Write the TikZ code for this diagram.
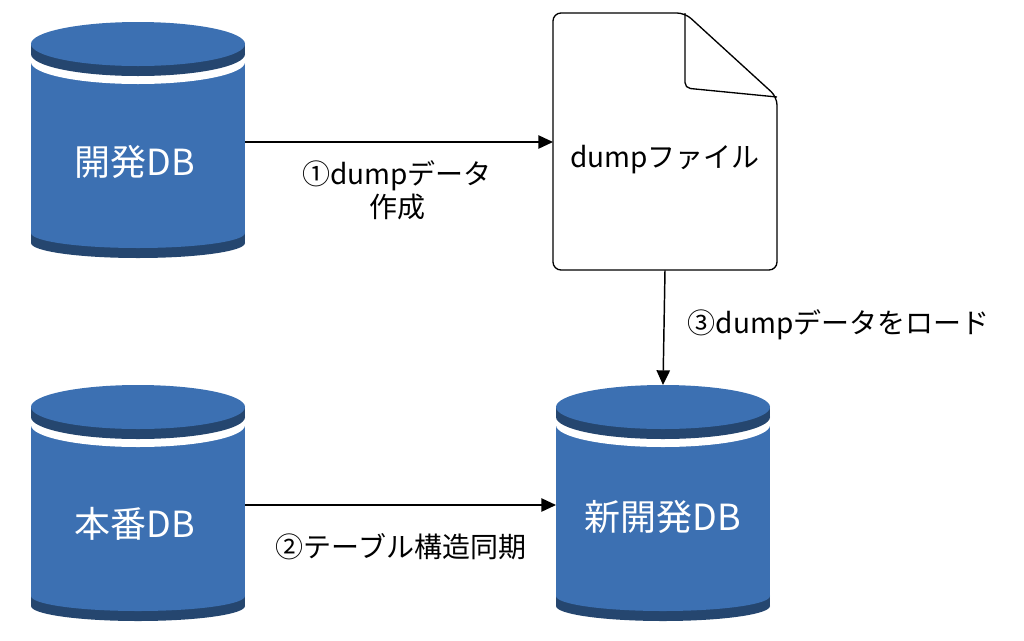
\documentclass[tikz,border=0pt]{standalone}
\usepackage{fontspec}
\setmainfont{Noto Sans CJK JP}
\usetikzlibrary{arrows.meta}
\definecolor{dbblue}{HTML}{3C70B2}
\definecolor{dbdark}{HTML}{25466F}
\tikzset{
  conn/.style={draw=black,line width=1.1pt,-{Triangle[length=11pt,width=10pt]}},
  elabel/.style={font=\fontsize{21pt}{25pt}\selectfont,align=center,text=black},
  dblabel/.style={font=\fontsize{27pt}{30pt}\selectfont,text=white},
}
% #1 left x, #2 top ellipse centre y, #3 body bottom y, #4 name, #5 label
\newcommand\mydbcyl[5]{%
  \fill[dbdark] (#1,#3) rectangle ++(214,10);
  \fill[dbdark] (#1+107,#3+10) ellipse[x radius=107,y radius=15];
  \fill[dbblue] (#1,#2) rectangle (#1+214,#3);
  \fill[dbblue] (#1+107,#3) ellipse[x radius=107,y radius=15];
  \fill[white] (#1,#2) rectangle (#1+214,#2+18);
  \fill[white] (#1+107,#2+18) ellipse[x radius=107,y radius=22];
  \fill[dbdark] (#1,#2) rectangle (#1+214,#2+10);
  \fill[dbdark] (#1+107,#2+10) ellipse[x radius=107,y radius=22];
  \fill[dbblue] (#1+107,#2) ellipse[x radius=107,y radius=22];
  \node[minimum width=214pt*0.75,minimum height={(#3-#2+30)*0.75pt},inner sep=0pt] (#4) at (#1+107,{(#2+#3+10)/2}) {};
}
\begin{document}
\begin{tikzpicture}[x=0.75pt,y=-0.75pt]
\useasboundingbox (0,0) rectangle (1024,640);
\mydbcyl{31}{44}{233}{dev}{}
\mydbcyl{31}{407}{596}{prod}{}
\mydbcyl{556}{407}{596}{newdev}{}
\node[dblabel] (devl) at (135,162) {開発DB};
\node[dblabel] (prodl) at (135,524) {本番DB};
\node[dblabel] (newl) at (663,517) {新開発DB};
% document
\draw[line width=1pt,fill=white,rounded corners=6pt] (553,13) -- (685,13) -- (777,97) -- (777,270) -- (553,270) -- cycle;
\draw[line width=1pt,rounded corners=4pt] (685,13) -- (685,88) -- (777,97);
\node[inner sep=0pt,minimum width=224*0.75pt,minimum height=257*0.75pt] (dump) at (665,141.5) {};
\node[elabel] at (665,160) {dumpファイル};
\coordinate (a1s) at (245,142);
\coordinate (a1e) at (553,142);
\draw[conn] (a1s) -- (a1e);
\node[elabel] (l1) at (397,190) {①dumpデータ\\作成};
\coordinate (a2s) at (245,505);
\coordinate (a2e) at (556,505);
\draw[conn] (a2s) -- (a2e);
\node[elabel] (l2) at (401,547) {②テーブル構造同期};
\coordinate (a3e) at (663,385);
\draw[conn] (dump.south) -- (a3e);
\node[elabel,anchor=west] (l3) at (683,325) {③dumpデータをロード};
\end{tikzpicture}
\end{document}
